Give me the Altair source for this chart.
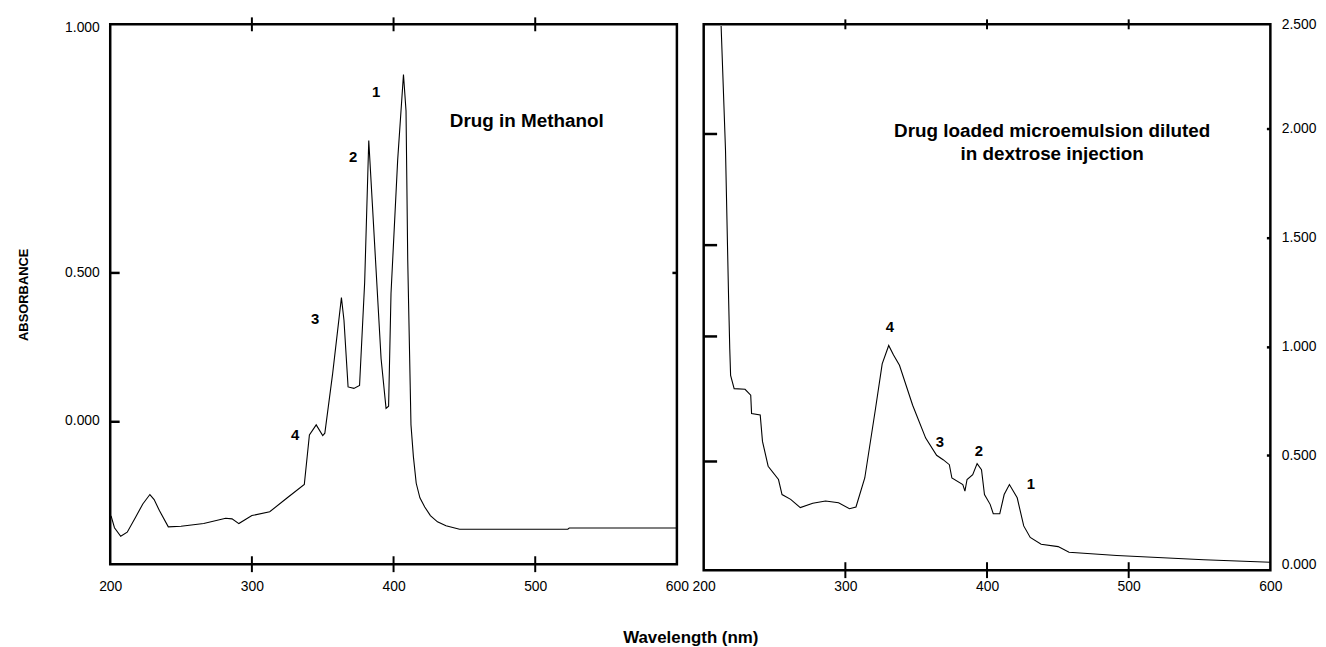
import altair as alt
import pandas as pd

# ---------------- data ----------------
left_nm = [200.6, 203, 207.4, 212, 217.7, 223, 228, 231, 234.8, 241, 250, 266, 281.5, 286, 290.8,
           300, 312.6, 325, 337, 340.6, 345.4, 350, 351.5, 357, 363.2, 365, 367.9, 372, 376,
           379.6, 382.5, 385, 391.2, 394.7, 396.5, 398.2, 402.9, 407, 408.8, 410, 412.3, 414,
           416, 418.6, 422, 426, 431, 437, 446.6, 500, 523, 524, 600]
left_abs = [-0.32, -0.36, -0.389, -0.375, -0.326, -0.28, -0.248, -0.265, -0.303, -0.357, -0.355,
            -0.346, -0.328, -0.330, -0.346, -0.319, -0.306, -0.259, -0.214, -0.047, -0.013, -0.049,
            -0.041, 0.16, 0.416, 0.34, 0.115, 0.11, 0.12, 0.467, 0.946, 0.735, 0.21, 0.0425, 0.05,
            0.43, 0.88, 1.169, 1.046, 0.545, -0.013, -0.12, -0.21, -0.259, -0.29, -0.319, -0.34,
            -0.353, -0.365, -0.365, -0.365, -0.361, -0.361]

right_nm = [212.3, 215.4, 217.6, 218.4, 219, 221.5, 229.2, 233.2, 233.8, 239.9, 241.5, 245.5,
            252.8, 255.3, 261.4, 268.2, 277, 286, 295.2, 302.9, 307.5, 313.7, 321.3, 326, 330.6,
            334, 338.2, 347.5, 356.7, 364.4, 369, 373.4, 375.2, 382.9, 384.4, 385.9, 389.9, 393,
            396.1, 398.2, 402.2, 404.4, 409, 412.1, 415.8, 421.3, 425.9, 430.5, 438.2, 450.2,
            457.9, 491.6, 553, 600]
right_abs = [2.47, 1.90, 1.216, 0.989, 0.867, 0.806, 0.803, 0.776, 0.692, 0.685, 0.564, 0.45,
             0.389, 0.32, 0.298, 0.26, 0.28, 0.29, 0.282, 0.255, 0.263, 0.396, 0.715, 0.92, 1.004,
             0.96, 0.913, 0.73, 0.579, 0.5, 0.48, 0.457, 0.396, 0.366, 0.336, 0.389, 0.411, 0.462,
             0.434, 0.32, 0.275, 0.232, 0.232, 0.32, 0.366, 0.305, 0.176, 0.123, 0.092, 0.081,
             0.055, 0.04, 0.021, 0.009]

left_peak_labels = ["1", "2", "3", "4"]
left_peak_nm = [387.7, 371.4, 344.6, 330.5]
left_peak_abs = [1.108, 0.89, 0.344, -0.047]

right_peak_labels = ["4", "3", "2", "1"]
right_peak_nm = [331.4, 366.7, 394.3, 430.9]
right_peak_abs = [1.087, 0.563, 0.521, 0.366]

left_title = ["Drug in Methanol"]
left_title_nm = [494]
left_title_abs = [1.013]
right_title = ["Drug loaded microemulsion diluted\nin dextrose injection"]
right_title_nm = [446]
right_title_abs = [1.99]

x_ticks = [200, 300, 400, 500, 600]
x_inner_ticks = [300, 400, 500]

left_y_ticks = [0.0, 0.5, 1.328]
left_y_tick_labels = ["0.000", "0.500", "1.000"]
left_y_domain = [-0.483, 1.338]
left_inner_left = [0.0, 0.5]
left_inner_right = [0.5]

right_y_ticks = [0.0, 0.5, 1.0, 1.5, 2.0, 2.478]
right_y_tick_labels = ["0.000", "0.500", "1.000", "1.500", "2.000", "2.500"]
right_y_domain = [-0.027, 2.478]
right_inner_left = [0.474, 1.048, 1.467, 1.977]
right_inner_right = [0.5, 1.0, 1.5, 2.0]

FONT = "Liberation Sans"
W = 571
HL = 544
HR = 550


def label_expr(values, labels):
    parts = []
    for v, l in zip(values, labels):
        parts.append(f"abs(datum.value - {v}) < 0.001 ? '{l}' : ")
    return "".join(parts) + "''"


def panel(nm, ab, pk_lab, pk_nm, pk_ab, t_text, t_nm, t_ab, ydom, yticks, ylabels, yorient,
          inner_left, inner_right, left_len, right_len, top_len, bot_len, H, label_pad_x, ytitle):
    df = pd.DataFrame({"nm": nm, "abs": ab})
    xs = alt.Scale(domain=[200, 600], nice=False, zero=False)
    ys = alt.Scale(domain=ydom, nice=False, zero=False)

    def xenc():
        return alt.X("nm:Q", scale=xs,
                     axis=alt.Axis(orient="bottom", values=x_ticks, ticks=False, domain=False,
                                   grid=False, labelPadding=label_pad_x, labelFontSize=14,
                                   labelFont=FONT, labelColor="black", title=None,
                                   labelFlush=False, format="d"))

    yaxis_kwargs = dict(orient=yorient, values=yticks, labelExpr=label_expr(yticks, ylabels),
                        ticks=False, domain=False, grid=False, labelPadding=11, labelFontSize=14,
                        labelFont=FONT, labelColor="black")
    if ytitle:
        yaxis_kwargs.update(title=ytitle, titleFont=FONT, titleFontSize=13, titleFontWeight="bold",
                            titlePadding=34, titleColor="black")
    else:
        yaxis_kwargs.update(title=None)

    line = alt.Chart(df).mark_line(color="black", strokeWidth=1.1, interpolate="linear").encode(
        x=xenc(), y=alt.Y("abs:Q", scale=ys, axis=alt.Axis(**yaxis_kwargs)))

    # inward ticks on left edge (axis placed at the left edge, ticks pointing right)
    ticks_a = alt.Chart(df).mark_point(opacity=0).encode(
        x=xenc(),
        y=alt.Y("abs:Q", scale=ys,
                axis=alt.Axis(orient="right", offset=-W, values=inner_left, labels=False,
                              domain=False, grid=False, tickSize=left_len, tickWidth=2.5,
                              tickColor="black", title=None)),
    )
    # inward ticks on right edge
    ticks_b = alt.Chart(df).mark_point(opacity=0).encode(
        x=xenc(),
        y=alt.Y("abs:Q", scale=ys,
                axis=alt.Axis(orient="left", offset=-W, values=inner_right, labels=False,
                              domain=False, grid=False, tickSize=right_len, tickWidth=2.5,
                              tickColor="black", title=None)),
    )
    # inward ticks on top and bottom edges (small vertical tick marks at 300/400/500 nm)
    xt = pd.DataFrame({"nm": x_inner_ticks})
    top_ticks = alt.Chart(xt).mark_tick(color="black", orient="vertical", size=top_len * 2,
                                        thickness=2, opacity=1).encode(
        x=xenc(), y=alt.value(0))
    bot_ticks = alt.Chart(xt).mark_tick(color="black", orient="vertical", size=bot_len * 2,
                                        thickness=2, opacity=1).encode(
        x=xenc(), y=alt.value(H))

    pk = alt.Chart(pd.DataFrame({"t": pk_lab, "nm": pk_nm, "abs": pk_ab})).mark_text(
        font=FONT, fontSize=15, fontWeight="bold", color="black", align="center",
        baseline="middle").encode(
        x=xenc(), y=alt.Y("abs:Q", scale=ys, axis=None), text="t:N")

    tt = alt.Chart(pd.DataFrame({"t": t_text, "nm": t_nm, "abs": t_ab})).mark_text(
        font=FONT, fontSize=19, fontWeight="bold", color="black", align="center",
        baseline="middle", lineBreak="\n", lineHeight=24).encode(
        x=xenc(), y=alt.Y("abs:Q", scale=ys, axis=None), text="t:N")

    return alt.layer(line, ticks_a, ticks_b, top_ticks, bot_ticks, pk, tt).resolve_axis(
        y="independent").properties(width=W, height=H)


left = panel(left_nm, left_abs, left_peak_labels, left_peak_nm, left_peak_abs,
             left_title, left_title_nm, left_title_abs, left_y_domain, left_y_ticks,
             left_y_tick_labels, "left", left_inner_left, left_inner_right,
             9, 5, 7, 8, HL, 15, "ABSORBANCE")
right = panel(right_nm, right_abs, right_peak_labels, right_peak_nm, right_peak_abs,
              right_title, right_title_nm, right_title_abs, right_y_domain, right_y_ticks,
              right_y_tick_labels, "right", right_inner_left, right_inner_right,
              13, 4, 5, 8, HR, 9, None)

chart = alt.hconcat(left, right, spacing=27).properties(
    bounds="flush",
    background="white",
    padding={"left": 8, "top": 5, "right": 0, "bottom": 0},
    title=alt.TitleParams("Wavelength (nm)", orient="bottom", anchor="middle", font=FONT,
                          fontSize=17, fontWeight="bold", color="black", offset=36, dx=24),
).configure_view(stroke="black", strokeWidth=2.5).configure_axis(grid=False)

chart.save("out.html", embed_options={"renderer": "svg", "actions": False})
